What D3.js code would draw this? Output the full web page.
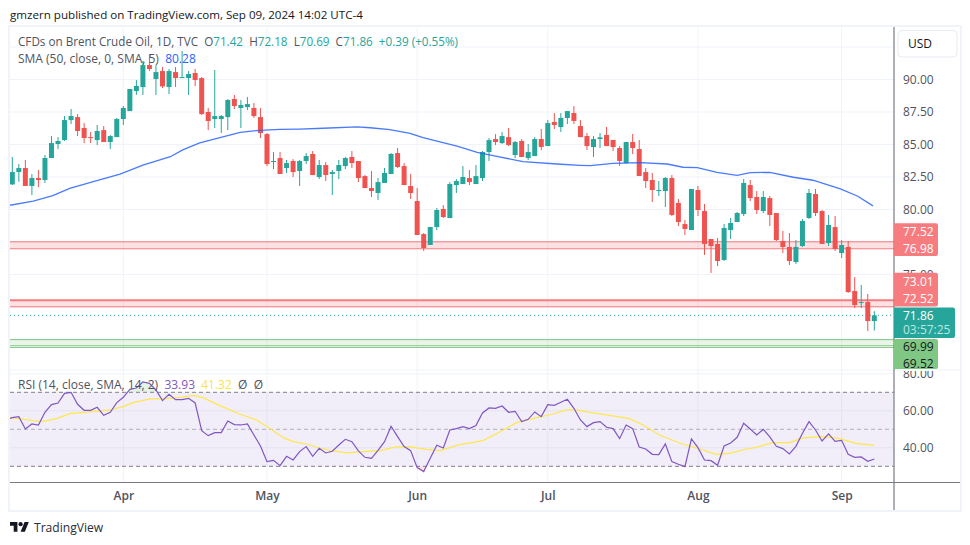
<!DOCTYPE html>
<html><head><meta charset="utf-8">
<script src="https://cdnjs.cloudflare.com/ajax/libs/d3/7.9.0/d3.min.js"></script>
<style>html,body{margin:0;padding:0;background:#fff}svg{display:block}text{font-family:"Open Sans","Noto Sans",sans-serif}</style>
</head><body><svg id="c" width="970" height="545"></svg>
<script>
const open=[81.93,82.88,83.19,81.81,82.42,82.27,83.96,85.04,85.34,86.88,87.11,86.27,85.57,85.34,86.11,85.19,85.57,86.96,87.57,89.11,89.42,91.11,90.04,90.65,89.42,90.57,90.11,90.11,90.50,90.11,87.50,86.96,86.96,87.11,88.50,87.81,87.88,87.81,87.11,85.80,83.65,83.96,83.19,83.73,82.96,83.73,84.27,82.50,83.42,82.73,82.96,83.34,84.04,83.73,82.57,81.65,81.27,82.04,82.73,84.34,83.34,81.81,80.65,78.11,77.27,78.65,80.04,79.34,81.88,81.96,82.42,81.96,82.42,84.42,85.42,85.11,85.57,84.19,85.27,83.96,84.11,85.42,84.88,86.73,86.34,87.04,87.42,86.42,85.65,84.80,85.42,85.73,85.35,84.73,83.58,85.19,84.65,82.88,82.27,81.42,81.42,82.42,80.50,78.88,78.42,81.50,79.88,77.73,77.35,76.12,78.42,79.04,79.65,81.88,80.96,79.88,80.88,79.73,77.58,77.12,75.96,77.19,79.35,81.19,79.88,77.42,78.65,76.65,77.12,73.73,72.81,72.88,71.42];
const high=[84.04,83.50,83.81,82.73,83.04,84.19,85.65,85.57,87.19,87.73,87.34,86.65,85.96,86.50,86.42,85.73,87.04,87.96,89.27,89.96,91.42,91.96,91.11,90.96,90.81,90.96,92.19,90.65,90.81,90.19,87.81,90.73,87.27,88.50,88.81,88.42,88.65,88.19,87.81,85.88,84.42,84.42,83.81,83.88,83.81,84.34,84.50,83.81,83.65,83.04,83.81,84.04,84.50,83.73,82.65,82.96,82.42,83.19,84.34,84.73,83.57,82.73,81.65,78.19,78.65,80.11,80.34,82.11,82.34,83.34,83.04,83.42,84.50,85.50,85.80,85.96,86.27,85.27,85.42,85.04,85.57,86.19,86.88,87.42,87.42,87.57,87.96,86.88,85.88,85.65,85.88,86.35,85.35,84.88,85.19,85.81,85.35,83.19,82.81,82.19,82.50,82.65,80.81,79.19,81.58,81.81,80.42,77.73,77.81,78.88,79.35,79.81,82.35,82.27,81.42,81.42,81.04,79.73,78.35,78.19,77.65,79.27,81.58,81.58,79.96,79.58,79.50,77.65,77.58,74.81,74.19,73.50,72.18];
const low=[81.88,82.14,81.81,81.11,81.73,82.04,83.96,84.65,85.27,86.57,85.65,85.11,85.11,84.96,85.19,84.65,85.57,86.50,87.57,88.81,88.81,90.65,88.81,89.34,88.88,89.42,90.11,88.81,89.50,87.27,86.11,86.27,85.88,86.11,87.73,86.27,87.65,87.04,85.50,83.34,83.11,82.73,82.81,82.50,81.81,83.50,82.65,82.34,82.19,81.11,82.34,83.11,83.19,82.11,81.65,80.96,80.73,82.04,82.73,83.19,81.88,80.81,78.04,76.81,77.27,78.42,79.34,79.34,81.27,81.96,81.88,81.96,82.19,83.73,84.96,85.04,84.88,83.96,84.04,83.81,84.11,84.57,84.88,86.19,85.96,86.57,86.57,85.57,84.57,84.04,84.73,84.88,84.50,83.35,83.50,84.27,82.58,81.65,80.58,81.04,80.19,79.50,78.73,78.04,78.42,79.50,76.50,75.12,75.65,76.04,77.73,79.04,79.50,80.65,79.65,79.73,78.73,77.58,76.65,75.73,75.81,77.12,79.27,79.50,77.35,77.19,76.81,76.27,73.58,72.42,72.42,70.65,70.69];
const close=[82.88,83.19,81.81,82.42,82.27,83.96,85.11,85.27,86.88,87.19,86.04,85.50,85.50,86.04,85.19,85.65,86.96,87.81,89.27,89.50,91.11,90.81,90.57,89.47,90.65,90.11,90.19,90.42,89.96,87.34,86.81,87.19,87.19,88.42,87.96,88.04,88.11,87.19,85.88,83.50,83.73,82.73,83.57,82.88,83.73,84.11,82.65,83.42,82.65,82.88,83.42,83.96,83.57,82.42,81.65,81.42,82.11,82.81,84.27,83.27,81.88,81.27,78.04,77.04,78.65,79.96,79.42,81.96,82.19,82.50,82.11,82.57,84.42,85.34,85.19,85.65,84.96,85.19,84.04,84.42,85.42,84.81,86.65,86.50,87.04,87.57,86.81,85.57,84.88,85.42,85.55,84.88,84.80,83.73,85.19,84.73,82.58,82.19,81.50,81.50,82.42,79.58,79.04,78.50,81.58,79.96,77.35,77.19,76.04,78.58,78.96,79.73,82.04,80.88,79.96,80.96,79.58,77.65,77.12,76.04,77.12,79.12,81.27,79.73,77.35,78.81,76.96,77.27,73.65,72.65,72.88,71.42,71.86];
const smaAt=[-0.4,3.2,6.2,8.8,12.4,16.5,20,24.2,26.1,28.7,31.8,34.9,37.9,41,44,47.6,52.8,54.8,57.8,60.9,62.9,68.1,71.2,74.2,78.2,83.4,86.9,88.5,92,96.1,100.3,102.7,104.9,107.9,111,113,116,119.6,122.6,126.8,129.4,131.8];
const smaVal=[80.32,80.65,81.06,81.63,82.14,82.73,83.42,84.06,84.58,85.12,85.52,85.94,86.09,86.17,86.19,86.25,86.35,86.29,86.14,85.86,85.52,84.88,84.40,84.09,83.68,83.50,83.40,83.37,83.55,83.60,83.50,83.25,83.22,82.86,82.63,82.83,82.86,82.48,82.25,81.58,81.04,80.28];
const rsiPrev=55.2;
const rsi=[56.3,56.85,50.18,52.88,52.34,59.19,63.33,64.23,69.46,70,63.51,60.27,60.27,61.89,57.57,59.19,64.41,67.3,71.62,72.34,75.59,74.86,71.26,65.5,68.92,66.04,66.04,66.76,64.23,49.28,46.58,48.2,48.2,54.5,52.52,52.34,52.88,46.94,41,32.52,33.24,30.36,35.41,33.42,37.93,40.63,35.41,39.73,37.21,38.11,41.53,44.59,43.33,38.29,34.86,34.32,38.65,43.33,51.62,46.04,40.63,38.47,29.28,27.12,34.32,41.35,39.91,49.64,50.36,51.44,50.36,51.98,58.83,61.53,61.35,62.61,59.19,59.73,54.14,55.41,59.37,56.85,63.33,62.97,64.59,66.22,61.35,55.05,51.44,53.6,54.14,51.08,50.36,44.95,52.34,50.36,40.45,39.37,36.49,36.31,42.07,32.52,31.08,29.82,44.77,40.09,33.42,33.06,30.54,41,42.61,45.68,53.24,50.18,46.94,50,45.86,40.81,39.55,36.67,40.81,47.84,54.14,49.64,43.69,47.48,43.51,44.05,36.49,34.86,35.05,32.7,33.93];
const rsiMaAt=[-0.4,0.77,3.2,4.7,6.8,8.8,11.9,14.9,17,18.5,21.1,23.6,25.7,27.7,29.2,31.8,34.8,37.4,39.4,41.5,43,45.1,47.1,49.1,51.2,53.7,56.3,58.8,60.9,63.4,65.5,68.5,72.1,75.2,77.2,80.3,82.8,84.8,86.4,88.9,91.5,94.5,96.6,99.1,102.7,105.8,107.8,109.8,112.4,113.9,116.5,119,121.1,124.1,126.7,129.2,132];
const rsiMaVal=[56.3,55.95,54.68,54.32,55.77,58.47,59.37,60.45,62.25,64.41,66.4,66.58,67.3,68.38,67.12,62.79,58.29,55.05,50.54,45.5,43.33,42.07,39.91,38.29,37.21,37.93,38.47,40.45,40.45,39.19,38.47,41.71,43.87,49.64,53.6,56.31,58.29,60.45,60.45,58.83,57.57,55.77,52.34,46.94,41.89,38.83,36.49,37.03,39.37,40.27,42.79,42.79,45.32,46.22,44.95,42.43,41.32];
const monthAt=[17,39,62,82,105,127];
const monthLabels=["Apr","May","Jun","Jul","Aug","Sep"];
const priceTicks=[92.5,90,87.5,85,82.5,80,77.5,75,72.5,70];
const priceLabelTicks=[90,87.5,85,82.5,80,75];
const rsiTicks=[80,60,40];
const zones=[[77.52,76.98],[73.01,72.52]];
const greenZone=[69.99,69.52];
const lastClose=71.86;

const svg=d3.select("#c");
const L=10,R=894,T=27,MB=370,RB=482.5,F=510,FR=960;
const x=d3.scaleLinear().domain([0,132]).range([12.3,874.3]);
const y=d3.scaleLinear().domain([90,70]).range([79.5,339.5]);
const r=d3.scaleLinear().domain([70,30]).range([392.3,466.3]);
const UP="#26a69a",DN="#ef5350",GRID="#f0f3fa",AX="#787b86",TXT="#50535e";
const defs=svg.append("defs");
defs.append("clipPath").attr("id","mp").append("rect").attr("x",L).attr("y",T).attr("width",R-L).attr("height",MB-T);
defs.append("clipPath").attr("id","rp").append("rect").attr("x",L).attr("y",MB).attr("width",R-L).attr("height",RB-MB);
defs.append("clipPath").attr("id","ra").append("rect").attr("x",R).attr("y",MB+1).attr("width",FR-R).attr("height",RB-MB);
defs.append("clipPath").attr("id","ob").append("rect").attr("x",L).attr("y",MB).attr("width",R-L).attr("height",r(70)-MB);
defs.append("clipPath").attr("id","os").append("rect").attr("x",L).attr("y",r(30)).attr("width",R-L).attr("height",RB-r(30));

svg.append("text").attr("x",10).attr("y",19).attr("font-size",11.6).attr("fill","#131722").text("gmzern published on TradingView.com, Sep 09, 2024 14:02 UTC-4");

const main=svg.append("g").attr("clip-path","url(#mp)");
main.selectAll(".hg").data(priceTicks).join("line").attr("x1",L).attr("x2",R).attr("y1",d=>y(d)).attr("y2",d=>y(d)).attr("stroke",GRID);
main.selectAll(".vg").data(monthAt).join("line").attr("x1",d=>x(d)).attr("x2",d=>x(d)).attr("y1",T).attr("y2",MB).attr("stroke",GRID);
const rp=svg.append("g").attr("clip-path","url(#rp)");
rp.selectAll(".vg").data(monthAt).join("line").attr("x1",d=>x(d)).attr("x2",d=>x(d)).attr("y1",MB).attr("y2",RB).attr("stroke",GRID);
rp.selectAll(".hg").data(rsiTicks).join("line").attr("x1",L).attr("x2",R).attr("y1",d=>r(d)).attr("y2",d=>r(d)).attr("stroke",GRID);

zones.forEach(z=>{
  main.append("rect").attr("x",L).attr("width",R-L).attr("y",y(z[0])).attr("height",y(z[1])-y(z[0])).attr("fill","#f23645").attr("opacity",.15);
  z.forEach(v=>main.append("line").attr("x1",L).attr("x2",R).attr("y1",y(v)).attr("y2",y(v)).attr("stroke","#f77c80").attr("stroke-width",v===73.01?2:1.2));
});
main.append("rect").attr("x",L).attr("width",R-L).attr("y",y(greenZone[0])).attr("height",y(greenZone[1])-y(greenZone[0])).attr("fill","#4caf50").attr("opacity",.13);
greenZone.concat([69.39]).forEach(v=>main.append("line").attr("x1",L).attr("x2",R).attr("y1",y(v)).attr("y2",y(v)).attr("stroke","#81c784").attr("stroke-width",1));
main.append("line").attr("x1",L).attr("x2",R).attr("y1",y(lastClose)).attr("y2",y(lastClose)).attr("stroke",UP).attr("stroke-dasharray","1 3").attr("stroke-width",1);

const idx=d3.range(open.length);
const col=i=>close[i]>=open[i]?UP:DN;
main.selectAll(".w").data(idx).join("line").attr("x1",i=>x(i)).attr("x2",i=>x(i)).attr("y1",i=>y(high[i])).attr("y2",i=>y(low[i])).attr("stroke",col).attr("stroke-width",1);
main.selectAll(".b").data(idx).join("rect").attr("x",i=>x(i)-2.5).attr("width",5).attr("y",i=>y(Math.max(open[i],close[i]))).attr("height",i=>Math.max(1,Math.abs(y(open[i])-y(close[i])))).attr("fill",col);

main.append("path").datum(smaAt.map((a,i)=>[a,smaVal[i]])).attr("fill","none").attr("stroke","#2962ff").attr("stroke-opacity",.85).attr("stroke-width",1.3)
 .attr("d",d3.line().x(d=>x(d[0])).y(d=>y(d[1])));

const rsiFull=[rsiPrev].concat(rsi);
rp.append("rect").attr("x",L).attr("width",R-L).attr("y",r(70)).attr("height",r(30)-r(70)).attr("fill","#7e57c2").attr("opacity",.1);
rp.selectAll(".rl").data([[70,AX,.95],[50,AX,.55],[30,AX,.95]]).join("line").attr("x1",L).attr("x2",R).attr("y1",d=>r(d[0])).attr("y2",d=>r(d[0])).attr("stroke",d=>d[1]).attr("stroke-opacity",d=>d[2]).attr("stroke-dasharray","4 3");
svg.append("path").datum(rsiFull).attr("clip-path","url(#ob)").attr("fill","#4caf50").attr("opacity",.15).attr("d",d3.area().x((d,i)=>x(i-1)).y0(r(70)).y1(d=>r(d)));
svg.append("path").datum(rsiFull).attr("clip-path","url(#os)").attr("fill","#f23645").attr("opacity",.15).attr("d",d3.area().x((d,i)=>x(i-1)).y0(r(30)).y1(d=>r(d)));
rp.append("path").datum(rsiMaAt.map((a,i)=>[a,rsiMaVal[i]])).attr("fill","none").attr("stroke","#fde74c").attr("stroke-width",1.2).attr("d",d3.line().x(d=>x(d[0])).y(d=>r(d[1])));
rp.append("path").datum(rsiFull).attr("fill","none").attr("stroke","#7e57c2").attr("stroke-width",1.2).attr("d",d3.line().x((d,i)=>x(i-1)).y(d=>r(d)));

svg.append("rect").attr("x",L-1).attr("y",T-1).attr("width",FR-L+2).attr("height",F-T+2).attr("fill","none").attr("stroke",GRID).attr("stroke-width",2);
svg.append("line").attr("x1",L).attr("x2",FR).attr("y1",MB).attr("y2",MB).attr("stroke",GRID);
svg.append("line").attr("x1",R).attr("x2",R).attr("y1",T).attr("y2",F).attr("stroke",AX).attr("stroke-width",1.2);
svg.append("line").attr("x1",L).attr("x2",FR).attr("y1",RB).attr("y2",RB).attr("stroke",AX).attr("stroke-width",1.2);

const pa=svg.append("g").attr("transform",`translate(${R},0)`).call(d3.axisRight(y).tickValues(priceLabelTicks).tickFormat(d3.format(".2f")).tickSize(0).tickPadding(9));
pa.select(".domain").remove();
pa.selectAll("text").attr("font-size",12).attr("fill",TXT).attr("font-family",'"Open Sans"');
const ra=svg.append("g").attr("clip-path","url(#ra)").append("g").attr("transform",`translate(${R},0)`).call(d3.axisRight(r).tickValues(rsiTicks).tickFormat(d3.format(".2f")).tickSize(0).tickPadding(9));
ra.select(".domain").remove();
ra.selectAll("text").attr("font-size",12).attr("fill",TXT).attr("font-family",'"Open Sans"');
const ta=svg.append("g").attr("transform",`translate(0,${RB})`).call(d3.axisBottom(d3.scaleOrdinal().domain(monthLabels).range(monthAt.map(d=>x(d)))).tickSize(0).tickPadding(9));
ta.select(".domain").remove();
ta.selectAll("text").attr("font-size",12).attr("fill",TXT).attr("font-weight",600).attr("font-family",'"Open Sans"');

svg.append("rect").attr("x",898).attr("y",30.5).attr("width",59).attr("height",26.5).attr("rx",4).attr("fill","#fff").attr("stroke","#e8ebf3");
svg.append("text").attr("x",908).attr("y",48).attr("font-size",12).attr("fill","#131722").text("USD");

function tag(y0,y1,x1,fill){svg.append("path").attr("fill",fill).attr("d",`M${R} ${y0}H${x1-2}Q${x1} ${y0} ${x1} ${y0+2}V${y1-2}Q${x1} ${y1} ${x1-2} ${y1}H${R}Z`);}
tag(223.3,256,938,"#f77c80");
tag(272.7,306.5,938,"#f77c80");
tag(307.5,338,955,"#26a69a");
tag(339,369,938,"#81c784");
[["77.52",232,"#fff"],["76.98",248.8,"#fff"],["73.01",281.5,"#fff"],["72.52",298.3,"#fff"],["71.86",315.3,"#fff"],["03:57:25",330,"#bfe5e1"],["69.99",346.5,"#131722"],["69.52",363.3,"#131722"]].forEach(d=>
 svg.append("text").attr("x",903).attr("y",d[1]).attr("dy",".35em").attr("font-size",12).attr("fill",d[2]).text(d[0]));

function legend(xp,yp,fs,parts){const t=svg.append("text").attr("x",xp).attr("y",yp).attr("font-size",fs);parts.forEach(p=>t.append("tspan").attr("fill",p[1]).text(p[0].replace(/ /g,"\u00a0")));}
legend(18,46,11.7,[["CFDs on Brent Crude Oil, 1D, TVC  ",TXT],["O",TXT],["71.42  ",UP],["H",TXT],["72.18  ",UP],["L",TXT],["70.69  ",UP],["C",TXT],["71.86  +0.39 (+0.55%)",UP]]);
legend(18,63,12,[["SMA (50, close, 0, SMA, 5)  ",TXT],["80.28","#2962ff"]]);
legend(18,389,12,[["RSI (14, close, SMA, 14, 2)  ",TXT],["33.93  ","#7e57c2"],["41.32  ","#f9e547"],["\u00d8  \u00d8",TXT]]);

const logo=svg.append("g").attr("transform","translate(10,520) scale(0.53)").attr("fill","#131722");
logo.append("path").attr("d","M14 22H7V11H0V4h14v18zM28 22h-8l7.5-18h8L28 22z");
logo.append("circle").attr("cx",20).attr("cy",8).attr("r",4);
svg.append("text").attr("x",34).attr("y",532).attr("font-size",12.1).attr("font-family","Lato").attr("fill","#2a2e39").text("TradingView");
</script></body></html>
